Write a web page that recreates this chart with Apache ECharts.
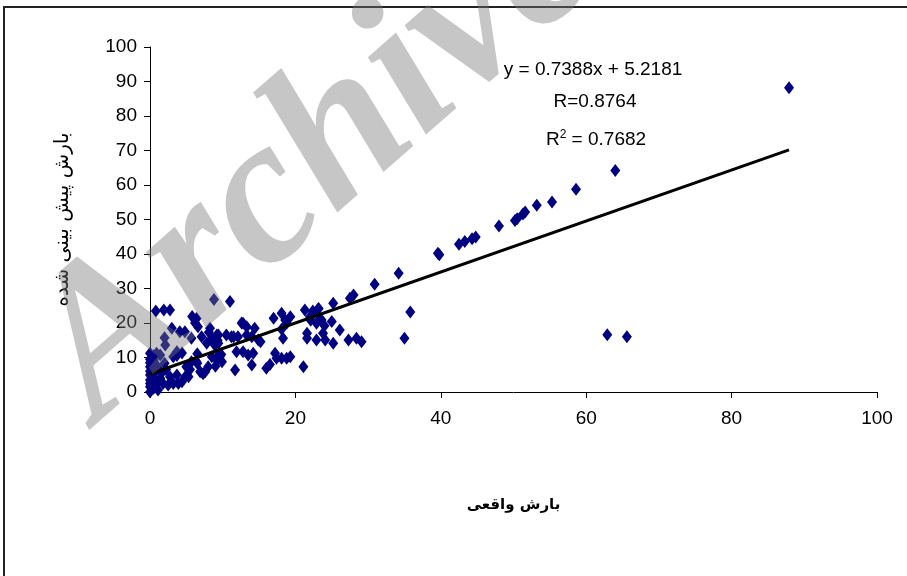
<!DOCTYPE html>
<html>
<head>
<meta charset="utf-8">
<script src="https://cdn.jsdelivr.net/npm/echarts@6/dist/echarts.min.js"></script>
<style>
  html, body { margin: 0; padding: 0; background: #fff; }
  #main { width: 907px; height: 576px; }
</style>
</head>
<body>
<div id="main"></div>
<script>
const actual = [
  0, 0, 0, 0, 0, 0, 0, 0, 0, 0, 0.5, 0.9, 1.4, 0.5, 0.7, 1.1, 0.5, 1.4, 1.6, 1.8,
  2.5, 2.75, 3.2, 3.9, 4.4, 3.7, 5.3, 1.2, 2.2, 1.0, 0.3, 2.0, 3.2, 3.7, 4.4, 3.7, 5.0, 0.3, 0.8,
  0.8, 1.9, 2.75, 3.0, 4.1, 4.8, 6.4, 6.6, 5.7, 2.1, 7.1, 8.25, 8.5, 9.2, 7.8, 8.9, 8.8, 2.0,
  5.8, 6.2, 8.1, 9.3,
  5.7, 6.4, 6.9, 7.6, 8.0, 8.5, 9.2, 6.5, 6.5, 9.0, 9.3, 9.8, 9.6, 9.9, 7.3, 4.9, 5.5,
  11.0, 17.0, 18.1, 18.6, 18.8, 18.3, 12.8, 13.3, 14.4, 14.9, 15.2, 14.0, 10.5, 11.5, 12.1,
  13.3, 9.4, 9.4, 11.9, 12.8, 13.5, 14.2, 14.0, 11.7, 16.0, 17.2, 17.4, 18.1, 18.8, 18.1,
  19.3, 19.3, 12.6, 11.2, 16.5,
  28.0, 27.5, 25.2, 21.3, 23.2, 22.5, 22.0, 23.6, 22.9, 25.0, 26.1, 21.6, 22.9, 23.8, 24.1,
  25.2, 27.3, 28.4, 29.1, 21.1, 22.4, 23.1, 23.4, 22.1, 21.6, 24.0,
  30.9, 34.2, 35.8, 35.0, 39.6, 39.8, 42.5, 43.3, 44.3, 44.8, 48.0, 50.2, 50.5, 51.3, 51.6,
  53.2, 55.3, 58.6, 64.0, 62.9, 65.6, 87.9
];
const predicted = [
  0, 1.5, 2.5, 3.5, 4.9, 6, 7.3, 8.5, 9.5, 11.2, 10.5, 11.2, 10.7, 9.3, 5.9, 0.6, 1.1, 4.0, 5.5, 2.5,
  2.0, 4.4, 2.5, 2.5, 3.0, 4.9, 4.4, 3.2, 6.5, 7.5, 4.2, 8.3, 10.2, 10.6, 11.3, 11.7, 7.3, 2.0, 3.0,
  23.5, 23.8, 23.8, 18.5, 17.5, 17.5, 21.3, 18.9, 15.6, 13.6, 16.0, 18.5, 15.6, 16.5, 14.1, 13.6, 26.8, 15.7,
  21.9, 20.0, 17.3, 15.0,
  8.8, 8.8, 5.9, 5.9, 7.3, 10.2, 9.3, 11.1, 8.3, 7.5, 10.4, 10.9, 10.2, 8.8, 5.3, 4.6, 6.5,
  26.2, 21.4, 22.8, 20.9, 19.9, 15.6, 19.9, 18.9, 18.5, 15.1, 14.6, 16.0, 16.5, 16.0, 16.0,
  16.5, 16.5, 14.1, 11.7, 11.7, 10.7, 11.2, 7.8, 6.4, 6.9, 11.2, 9.8, 9.8, 9.8, 18.2,
  21.8, 10.2, 20.0, 16.0, 8.0,
  28.1, 27.2, 25.7, 23.8, 24.2, 22.8, 21.8, 20.9, 19.9, 20.4, 18.0, 15.6, 15.1, 17.0, 15.1,
  14.1, 15.1, 15.6, 14.6, 7.3, 23.5, 24.0, 21.2, 20.8, 17.0, 19.2,
  31.2, 34.4, 23.2, 15.6, 40.2, 39.8, 42.8, 43.6, 44.4, 44.9, 48.1, 49.7, 50.2, 51.6, 52.2,
  54.1, 55.1, 58.8, 64.2, 16.6, 16.0, 88.2
];
const xTicks = [0, 20, 40, 60, 80, 100];
const yTicks = [0, 10, 20, 30, 40, 50, 60, 70, 80, 90, 100];

// trend line from the printed equation
const slope = 0.7388;
const intercept = 5.2181;
const eqText = "y = 0.7388x + 5.2181";
const rText = "R=0.8764";
const r2Value = "0.7682";

const points = actual.map((x, i) => [x, predicted[i]]);
const xMin = Math.min(...actual);
const xMax = Math.max(...actual);
const trend = [[xMin, slope * xMin + intercept], [xMax, slope * xMax + intercept]];

const numFont = "'Liberation Sans', Arial, sans-serif";

const chart = echarts.init(document.getElementById("main"));
const option = {
  backgroundColor: "#fff",
  animation: false,
  grid: { left: 150, right: 30, top: 47, bottom: 184 },
  xAxis: {
    type: "value",
    min: xTicks[0],
    max: xTicks[xTicks.length - 1],
    interval: 20,
    splitLine: { show: false },
    axisLine: { lineStyle: { color: "#000", width: 1 } },
    axisTick: { length: 6, lineStyle: { color: "#000" } },
    axisLabel: { color: "#000", fontSize: 19, fontFamily: numFont, margin: 17 },
    name: "بارش واقعی",
    nameLocation: "middle",
    nameGap: 106,
    nameTextStyle: { color: "#000", fontSize: 15, fontWeight: "bold", fontFamily: "DejaVu Sans" }
  },
  yAxis: {
    type: "value",
    min: yTicks[0],
    max: yTicks[yTicks.length - 1],
    interval: 10,
    splitLine: { show: false },
    axisLine: { show: true, lineStyle: { color: "#000", width: 1 } },
    axisTick: { show: true, length: 6, lineStyle: { color: "#000" } },
    axisLabel: { color: "#000", fontSize: 19, fontFamily: numFont, margin: 13 },
    name: "بارش پیش بینی شده",
    nameLocation: "middle",
    nameGap: 77,
    nameTextStyle: { color: "#000", fontSize: 20, fontFamily: "DejaVu Sans" }
  },
  series: [
    {
      type: "scatter",
      symbol: "diamond",
      symbolSize: [10, 13],
      itemStyle: { color: "#000080", opacity: 1 },
      data: points
    },
    {
      type: "line",
      symbol: "none",
      lineStyle: { color: "#000", width: 3 },
      data: trend,
      z: 3
    }
  ],
  graphic: [
    {
      type: "rect",
      shape: { x: 4, y: 7, width: 1000, height: 700 },
      style: { fill: "none", stroke: "#222", lineWidth: 2 },
      silent: true
    },
    {
      type: "text",
      x: 593, y: 70,
      style: { text: eqText, font: "19px " + numFont, fill: "#000", align: "center", verticalAlign: "middle" }
    },
    {
      type: "text",
      x: 595, y: 102,
      style: { text: rText, font: "19px " + numFont, fill: "#000", align: "center", verticalAlign: "middle" }
    },
    {
      type: "text",
      x: 596, y: 140,
      style: {
        text: "R{s|2} = " + r2Value,
        font: "19px " + numFont,
        fill: "#000",
        align: "center",
        verticalAlign: "middle",
        rich: { s: { fontSize: 12, fontFamily: numFont, verticalAlign: "top", padding: [0, 0, 10, 0] } }
      }
    },
    {
      type: "text",
      x: 316, y: 159,
      rotation: 0.72,
      z: 100,
      silent: true,
      style: {
        text: "Archive",
        font: "italic bold 210px 'Liberation Serif', serif",
        fill: "rgba(120,120,120,0.42)",
        align: "center",
        verticalAlign: "middle"
      }
    }
  ]
};
chart.setOption(option);
</script>
</body>
</html>
